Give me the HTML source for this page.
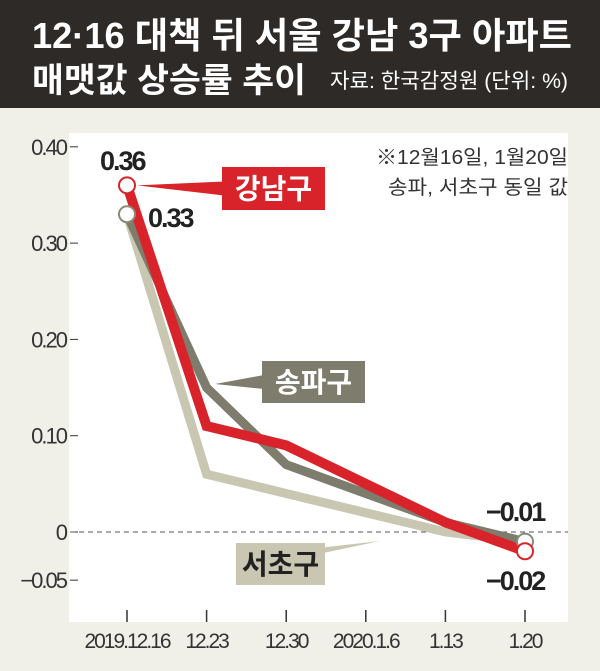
<!DOCTYPE html>
<html><head><meta charset="utf-8"><style>
body{margin:0;width:600px;height:671px;background:#f1f0e8;overflow:hidden;font-family:"Liberation Sans","Noto Sans CJK KR",sans-serif}
#hdr{position:absolute;left:0;top:0;width:600px;height:108px;background:#2d2a27}
</style></head><body>
<div id="hdr"></div>
<svg width="600" height="671" style="position:absolute;left:0;top:0">
<text x="32" y="48" fill="#fff" font-size="36" font-weight="bold" font-family="Liberation Sans,Noto Sans CJK KR,sans-serif" textLength="540" lengthAdjust="spacingAndGlyphs">12·16 대책 뒤 서울 강남 3구 아파트</text>
<text x="32" y="92" fill="#fff" font-size="34" font-weight="bold" font-family="Liberation Sans,Noto Sans CJK KR,sans-serif" textLength="274" lengthAdjust="spacingAndGlyphs">매맷값 상승률 추이</text>
<text x="330" y="88" fill="#fff" font-size="21" font-family="Liberation Sans,Noto Sans CJK KR,sans-serif" textLength="238" lengthAdjust="spacingAndGlyphs">자료: 한국감정원  (단위: %)</text>
<rect x="69" y="133" width="499" height="489" fill="#fff"/>
<text x="568" y="164" text-anchor="end" font-size="20" fill="#333" font-family="Liberation Sans,Noto Sans CJK KR,sans-serif" textLength="192" lengthAdjust="spacingAndGlyphs">※12월16일, 1월20일</text>
<text x="568" y="194" text-anchor="end" font-size="20" fill="#333" font-family="Liberation Sans,Noto Sans CJK KR,sans-serif" textLength="180" lengthAdjust="spacingAndGlyphs">송파, 서초구 동일 값</text>
<g id="axes"></g><g id="lines"></g><g id="labels"></g>
</svg>
<script>
const categories=["2019.12.16","12.23","12.30","2020.1.6","1.13","1.20"];
const gangnam=[0.36,0.11,0.09,0.05,0.01,-0.02];
const songpa=[0.33,0.15,0.07,0.04,0.01,-0.01];
const seocho=[0.33,0.06,0.04,0.02,0.00,-0.01];
const yTicks=[0.40,0.30,0.20,0.10,0,-0.05];
const yTickLabels=["0.40","0.30","0.20","0.10","0","−0.05"];
const NS="http://www.w3.org/2000/svg";
function x(i){return 127+i*79.6;}
function y(v){return 532-v*963;}
function mk(tag,attrs,parent,txt){const e=document.createElementNS(NS,tag);for(const k in attrs)e.setAttribute(k,attrs[k]);if(txt!==undefined)e.textContent=txt;parent.appendChild(e);return e;}
const ax=document.getElementById('axes'),ln=document.getElementById('lines'),lb=document.getElementById('labels');
yTicks.forEach((t,i)=>{
 const l=mk('line',{x1:70,x2:78,y1:y(t),y2:y(t),stroke:'#333','stroke-width':1},ax);
 
 
 const tx=mk('text',{x:66,y:y(t)+8,'text-anchor':'end','font-size':22,fill:'#333','letter-spacing':'-2'},ax,yTickLabels[i]);
 
 
});
const zl=mk('line',{x1:70,x2:568,y1:y(0),y2:y(0),stroke:'#555','stroke-dasharray':'5,4','stroke-width':1},ax);


categories.forEach((c,i)=>{
 const l=mk('line',{x1:x(i),x2:x(i),y1:610,y2:622,stroke:'#333','stroke-width':1.5},ax);
 
 
 const tx=mk('text',{x:x(i),y:648,'text-anchor':'middle','font-size':21,fill:'#333','letter-spacing':'-2'},ax,c);
 
 
});
function series(vals,color,w,name){
 const p=mk('polyline',{points:vals.map((v,i)=>x(i)+','+y(v)).join(' '),fill:'none',stroke:color,'stroke-width':w,'stroke-linejoin':'miter'},ln);
 
 
}
series(seocho,'#c9c7b2',9,'seocho-line');
series(songpa,'#7d7c6d',9,'songpa-line');
series(gangnam,'#d9232b',10,'gangnam-line');
function dot(i,v,color,name){const c=mk('circle',{cx:x(i),cy:y(v),r:8,fill:'#fff',stroke:color,'stroke-width':2},ln);
 
 }
dot(0,songpa[0],'#8a897a','start-marker-songpa');
dot(5,songpa[5],'#8a897a','end-marker-songpa');
dot(0,gangnam[0],'#d9232b','start-marker-gangnam');
dot(5,gangnam[5],'#d9232b','end-marker-gangnam');
function val(tx,xx,yy,name){const t=mk('text',{x:xx,y:yy,'font-size':27,'font-weight':'bold',fill:'#222','letter-spacing':'-2'},lb,tx);
 
 }
val(gangnam[0].toFixed(2),100,170,'value-label-gangnam-start');
val(songpa[0].toFixed(2),148,227,'value-label-songpa-start');
val('−'+Math.abs(songpa[5]).toFixed(2),486,521,'value-label-songpa-end');
val('−'+Math.abs(gangnam[5]).toFixed(2),486,590,'value-label-gangnam-end');
function callout(bx,by,bw,bh,tipx,tipy,fill,txt,txtColor,name){
 const g=mk('g',{},lb);
 
 
 mk('polygon',{points:`${tipx},${tipy} ${bx+2},${by+bh/2-7} ${bx+2},${by+bh/2+7}`,fill:fill},g);
 mk('rect',{x:bx,y:by,width:bw,height:bh,fill:fill},g);
 mk('text',{x:bx+bw/2,y:by+bh/2+10,'text-anchor':'middle','font-size':28,'font-weight':'bold',fill:txtColor},g,txt);
}
callout(222,167,103,43,x(0)+10,y(gangnam[0]),'#d9232b','강남구','#fff','legend-gangnam');
callout(262,361,103,42,215,384,'#7d7c6d','송파구','#fff','legend-songpa');
callout(236,543,89,42,380,541,'#c9c7b2','서초구','#222','legend-seocho');
</script>
</body></html>
